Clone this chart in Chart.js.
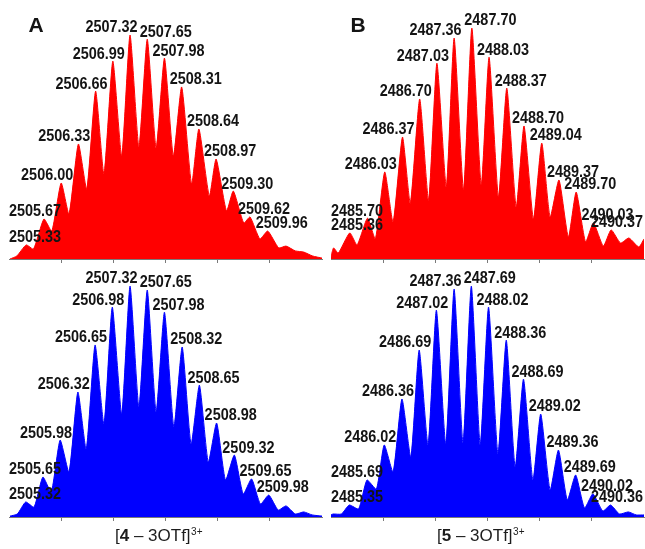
<!DOCTYPE html>
<html>
<head>
<meta charset="utf-8">
<script src="https://cdn.jsdelivr.net/npm/chart.js@4.4.1/dist/chart.umd.min.js"></script>
<style>
  html, body { margin:0; padding:0; background:#fff; overflow:hidden; }
  body { width:645px; height:549px; position:relative; }
  canvas { position:absolute; }
</style>
</head>
<body>
<canvas id="cTL" width="330" height="264" style="left:0;top:0"></canvas>
<canvas id="cTR" width="323" height="264" style="left:322px;top:0"></canvas>
<canvas id="cBL" width="330" height="287" style="left:0;top:262px"></canvas>
<canvas id="cBR" width="323" height="287" style="left:322px;top:262px"></canvas>
<script>
// ---------- DATA (m/z and relative intensity, %) ----------
// Panel A, experimental (red)
const mzA_exp = [2505.02, 2505.15, 2505.33, 2505.47, 2505.67, 2505.82, 2506.00, 2506.15, 2506.33, 2506.49,
  2506.66, 2506.82, 2506.99, 2507.16, 2507.32, 2507.49, 2507.65, 2507.82, 2507.98, 2508.15,
  2508.31, 2508.50, 2508.64, 2508.84, 2508.97, 2509.17, 2509.30, 2509.50, 2509.62, 2509.81,
  2509.96, 2510.17, 2510.31, 2510.49, 2510.65, 2510.82, 2511.0];
const intA_exp = [0, 1.3, 6.1, 4.3, 17.3, 12.1, 32.9, 19.5, 49.8, 30.3,
  72.7, 36.8, 85.7, 44.6, 97.0, 48.5, 95.2, 48.1, 87.0, 44.6,
  74.5, 32.5, 56.3, 27.3, 43.3, 20.8, 29.4, 15.6, 18.2, 8.7,
  12.1, 4.8, 5.6, 3.5, 3.0, 1.3, 0.4];
const labelsA_exp = ['2505.33','2505.67','2506.00','2506.33','2506.66','2506.99','2507.32','2507.65',
  '2507.98','2508.31','2508.64','2508.97','2509.30','2509.62','2509.96'];

// Panel B, experimental (red)
const mzB_exp = [2485.00, 2485.05, 2485.14, 2485.36, 2485.50, 2485.70, 2485.85, 2486.03, 2486.19, 2486.37,
  2486.52, 2486.70, 2486.87, 2487.03, 2487.21, 2487.36, 2487.54, 2487.70, 2487.88, 2488.03,
  2488.21, 2488.37, 2488.55, 2488.70, 2488.88, 2489.04, 2489.20, 2489.37, 2489.55, 2489.70,
  2489.88, 2490.03, 2490.22, 2490.37, 2490.55, 2490.71, 2490.90, 2491.0];
const intB_exp = [1.0, 4.8, 2.6, 11.3, 6.1, 17.7, 8.7, 37.7, 16.0, 52.8,
  24.2, 69.3, 25.5, 84.8, 31.2, 95.7, 29.9, 100, 32.0, 87.4,
  26.8, 74.0, 22.5, 57.6, 17.3, 50.2, 18.2, 34.2, 9.5, 29.0,
  7.4, 15.6, 5.6, 12.6, 6.9, 9.1, 5.2, 8.7];
const labelsB_exp = ['2485.36','2485.70','2486.03','2486.37','2486.70','2487.03','2487.36','2487.70',
  '2488.03','2488.37','2488.70','2489.04','2489.37','2489.70','2490.03','2490.37'];

// Panel A, simulated (blue)
const mzA_sim = [2505.02, 2505.16, 2505.32, 2505.48, 2505.65, 2505.81, 2505.98, 2506.15, 2506.32, 2506.48,
  2506.65, 2506.82, 2506.98, 2507.16, 2507.32, 2507.49, 2507.65, 2507.82, 2507.98, 2508.16,
  2508.32, 2508.49, 2508.65, 2508.82, 2508.98, 2509.15, 2509.32, 2509.49, 2509.65, 2509.82,
  2509.98, 2510.16, 2510.31, 2510.49, 2510.65, 2510.81, 2511.0];
const intA_sim = [0.4, 1.3, 6.5, 4.3, 17.3, 10.8, 33.3, 19.5, 54.1, 29.4,
  74.5, 40.3, 90.9, 44.6, 100, 47.6, 98.3, 45.5, 88.7, 39.0,
  73.6, 31.6, 57.1, 23.8, 40.7, 16.0, 26.8, 10.0, 16.5, 5.6,
  9.5, 3.0, 4.8, 1.3, 2.2, 0.9, 0.4];
const labelsA_sim = ['2505.32','2505.65','2505.98','2506.32','2506.65','2506.98','2507.32','2507.65',
  '2507.98','2508.32','2508.65','2508.98','2509.32','2509.65','2509.98'];

// Panel B, simulated (blue)
const mzB_sim = [2485.00, 2485.04, 2485.20, 2485.35, 2485.53, 2485.69, 2485.87, 2486.02, 2486.19, 2486.36,
  2486.53, 2486.69, 2486.86, 2487.02, 2487.20, 2487.36, 2487.53, 2487.69, 2487.86, 2488.02,
  2488.20, 2488.36, 2488.53, 2488.69, 2488.87, 2489.02, 2489.20, 2489.36, 2489.53, 2489.69,
  2489.86, 2490.02, 2490.21, 2490.36, 2490.53, 2490.70, 2490.85, 2491.0];
const intB_sim = [0.9, 1.3, 1.3, 5.2, 3.5, 16.0, 12.1, 31.2, 19.5, 51.1,
  26.0, 72.3, 31.2, 89.6, 31.6, 98.7, 32.0, 100, 31.2, 90.9,
  27.3, 76.6, 21.6, 59.7, 16.0, 44.6, 11.7, 29.0, 7.4, 18.2,
  3.9, 10.0, 2.6, 5.2, 1.3, 2.2, 0.9, 0.9];
const labelsB_sim = ['2485.35','2485.69','2486.02','2486.36','2486.69','2487.02','2487.36','2487.69',
  '2488.02','2488.36','2488.69','2489.02','2489.36','2489.69','2490.02','2490.36'];

const rangeA = [2505, 2511];
const rangeB = [2485, 2491];
const captionA = ['[', '4', ' \u2013 3OTf]', '3+'];
const captionB = ['[', '5', ' \u2013 3OTf]', '3+'];

// ---------- PLUGINS ----------
const FONT = '"Liberation Sans", Arial, Helvetica, sans-serif';

const peakLabelPlugin = {
  id: 'peakLabels',
  afterDatasetsDraw(chart, args, opts) {
    if (!opts || !opts.labels) return;
    const { ctx, chartArea } = chart;
    const meta = chart.getDatasetMeta(0);
    const pts = chart.data.datasets[0].data;
    const labs = opts.labels;
    const idx = labs.map(l => {
      const v = parseFloat(l);
      let bi = 0, bd = Infinity;
      pts.forEach((p, i) => { const d = Math.abs(p.x - v); if (d < bd) { bd = d; bi = i; } });
      return bi;
    });
    let best = -1, piv = 0;
    for (let k = 0; k < idx.length - 1; k++) {
      const s = pts[idx[k]].y + pts[idx[k + 1]].y;
      if (s > best) { best = s; piv = k; }
    }
    ctx.save();
    ctx.font = 'bold 16px ' + FONT;
    ctx.fillStyle = '#141414';
    ctx.textBaseline = 'middle';
    ctx.textAlign = 'left';
    const sx = 0.9;
    labs.forEach((t, k) => {
      const el = meta.data[idx[k]];
      const w = ctx.measureText(t).width * sx;
      const near = (k === piv || k === piv + 1);
      const off = near ? 7.5 : 12;
      let left = k <= piv ? el.x + off - w : el.x - off;
      left = Math.max(chartArea.left, Math.min(left, chart.width - 2 - w));
      ctx.save();
      ctx.translate(left, el.y - 7);
      ctx.scale(sx, 1);
      ctx.fillText(t, 0, 0);
      ctx.restore();
    });
    ctx.restore();
  }
};

const panelLetterPlugin = {
  id: 'panelLetter',
  afterDraw(chart, args, opts) {
    if (!opts || !opts.letter) return;
    const { ctx, chartArea } = chart;
    ctx.save();
    ctx.font = 'bold 21px ' + FONT;
    ctx.fillStyle = '#141414';
    ctx.textAlign = 'center';
    ctx.textBaseline = 'middle';
    ctx.fillText(opts.letter, chartArea.left + 27, 26);
    ctx.restore();
  }
};

const captionPlugin = {
  id: 'caption',
  afterDraw(chart, args, opts) {
    if (!opts || !opts.parts) return;
    const { ctx, chartArea } = chart;
    const [a, b, c, sup] = opts.parts;
    const cx = (chartArea.left + chartArea.right) / 2;
    let x = cx - 50.5;
    const y = chartArea.bottom + 24;
    ctx.save();
    ctx.fillStyle = '#1c1c1c';
    ctx.textBaseline = 'alphabetic';
    ctx.textAlign = 'left';
    ctx.font = '17px ' + FONT;
    ctx.fillText(a, x, y); x += ctx.measureText(a).width;
    ctx.font = 'bold 17px ' + FONT;
    ctx.fillText(b, x, y); x += ctx.measureText(b).width;
    ctx.font = '17px ' + FONT;
    ctx.fillText(c, x, y); x += ctx.measureText(c).width;
    ctx.font = '10px ' + FONT;
    ctx.fillText(sup, x + 0.5, y - 6);
    ctx.restore();
  }
};

// ---------- CHART FACTORY ----------
function makeChart(id, mz, inten, range, color, pad, pluginOpts) {
  const data = mz.map((m, i) => ({ x: m, y: inten[i] }));
  return new Chart(document.getElementById(id), {
    type: 'line',
    data: { datasets: [{
      data,
      borderColor: color,
      backgroundColor: color,
      borderWidth: 1,
      fill: 'origin',
      pointRadius: 0,
      tension: 0.18
    }]},
    options: {
      responsive: false,
      animation: false,
      events: [],
      layout: { padding: pad, autoPadding: false },
      plugins: Object.assign({ legend: { display: false }, tooltip: { enabled: false } }, pluginOpts),
      scales: {
        x: {
          type: 'linear',
          min: range[0], max: range[1],
          afterFit(s) { s.height = 4; },
          afterBuildTicks(s) { s.ticks = s.ticks.filter(t => t.value > s.min && t.value < s.max); },
          ticks: { display: false, stepSize: 1 },
          grid: { drawOnChartArea: false, drawTicks: true, tickLength: 4, color: '#7a7a7a', lineWidth: 1 },
          border: { display: true, color: '#7a7a7a', width: 1 }
        },
        y: { display: false, min: 0, max: 110 }
      }
    },
    plugins: [peakLabelPlugin, panelLetterPlugin, captionPlugin]
  });
}

makeChart('cTL', mzA_exp, intA_exp, rangeA, '#ff0000',
  { left: 9, right: 8, top: 5, bottom: 1 },
  { peakLabels: { labels: labelsA_exp }, panelLetter: { letter: 'A' } });
makeChart('cTR', mzB_exp, intB_exp, rangeB, '#ff0000',
  { left: 9, right: 1, top: 5, bottom: 1 },
  { peakLabels: { labels: labelsB_exp }, panelLetter: { letter: 'B' } });
makeChart('cBL', mzA_sim, intA_sim, rangeA, '#0000ff',
  { left: 9, right: 8, top: 1, bottom: 28 },
  { peakLabels: { labels: labelsA_sim }, caption: { parts: captionA } });
makeChart('cBR', mzB_sim, intB_sim, rangeB, '#0000ff',
  { left: 9, right: 1, top: 1, bottom: 28 },
  { peakLabels: { labels: labelsB_sim }, caption: { parts: captionB } });
</script>
</body>
</html>
